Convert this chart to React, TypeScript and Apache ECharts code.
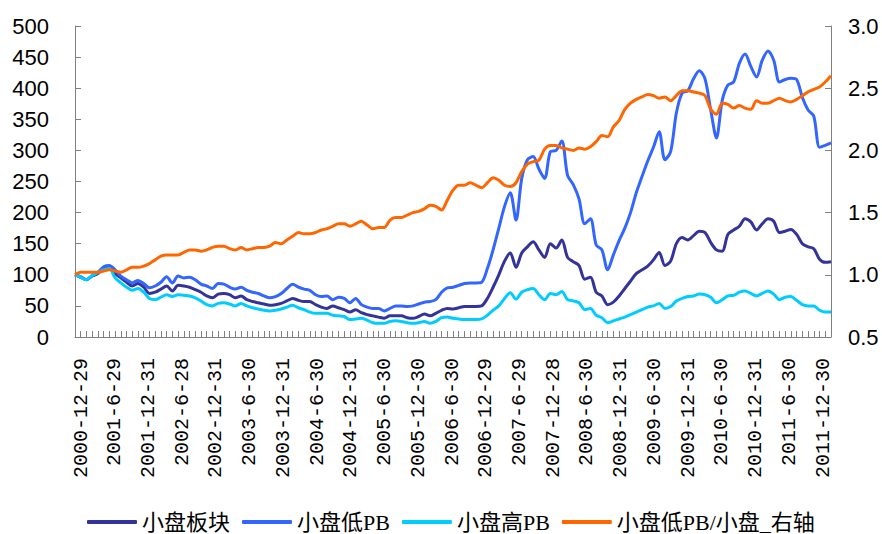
import React, { useEffect, useRef } from "react";
import * as echarts from "echarts";

// Half-year axis labels (last trading day of June / December)
const halfYearLabels = [
  "2000-12-29", "2001-6-29", "2001-12-31", "2002-6-28", "2002-12-31",
  "2003-6-30", "2003-12-31", "2004-6-30", "2004-12-31", "2005-6-30",
  "2005-12-30", "2006-6-30", "2006-12-29", "2007-6-29", "2007-12-28",
  "2008-6-30", "2008-12-31", "2009-6-30", "2009-12-31", "2010-6-30",
  "2010-12-31", "2011-6-30", "2011-12-30",
];

// Monthly index values, Dec 2000 = 100
const smallCap = [
  100, 96, 92, 98, 102, 110, 113, 102, 95, 88,
  82, 86, 80, 70, 72, 77, 82, 74, 83, 82,
  80, 76, 72, 66, 63, 69, 70, 68, 63, 66,
  60, 57, 55, 53, 51, 52, 54, 58, 62, 59,
  57, 57, 52, 48, 46, 50, 47, 44, 40, 44,
  39, 36, 34, 32, 30, 34, 34, 34, 31, 30,
  33, 37, 34, 38, 43, 46, 45, 47, 49, 49,
  49, 50, 62, 80, 100, 122, 135, 112, 135, 145,
  153, 140, 128, 150, 143, 156, 128, 121, 115, 93,
  96, 72, 66, 52, 56, 66, 78, 90, 102, 108,
  114, 124, 136, 115, 122, 150, 160, 156, 163, 170,
  168, 152, 140, 138, 165, 172, 178, 190, 185, 172,
  182, 190, 186, 168, 170, 173, 165, 150, 145, 142,
  125, 120, 121,
];

const smallCapLowPB = [
  100, 97, 92, 99, 104, 113, 115, 108, 98, 92,
  87, 91, 86, 79, 82, 88, 97, 87, 98, 95,
  96, 92, 85, 82, 78, 86, 85, 80, 77, 80,
  75, 72, 70, 66, 63, 65, 70, 78, 85, 80,
  77, 75, 68, 65, 66, 60, 64, 62, 55, 62,
  52, 48, 46, 46, 42, 46, 50, 50, 49, 50,
  53, 56, 57, 60, 72, 79, 80, 83, 86, 87,
  87, 88, 110, 140, 175, 210, 232, 188, 255, 285,
  290, 270, 255, 298, 300, 315, 260, 245, 222, 182,
  190, 148, 140, 108, 132, 155, 175, 200, 232, 258,
  283, 305, 330, 285, 298, 360, 392, 396, 415, 428,
  415, 365, 320, 380, 405, 410, 440, 455, 435, 418,
  445, 460, 445, 410, 414, 416, 414, 385, 365, 355,
  305, 308, 312,
];

const smallCapHighPB = [
  100, 96, 92, 99, 104, 108, 110, 95, 87, 80,
  75, 78, 72, 62, 60, 64, 68, 65, 68, 67,
  66, 63, 58, 52, 50, 54, 55, 53, 50, 54,
  50, 47, 45, 43, 42, 43, 45, 48, 51, 47,
  44, 40, 38, 38, 38, 35, 34, 33, 28, 29,
  30, 27, 23, 22, 22, 25, 26, 25, 23, 22,
  23, 25, 22, 25, 31, 32, 30, 29, 28, 28,
  28, 29, 35, 43, 50, 62, 71, 61, 72, 76,
  78, 68, 60, 70, 68, 73, 60, 58, 55, 44,
  46, 35, 31, 23, 26, 29, 32, 36, 40, 44,
  48, 50, 54, 46, 49, 58, 62, 65, 66, 69,
  68, 64, 55, 60, 66, 67, 72, 74, 70, 66,
  70, 74, 69, 60, 64, 65, 59, 52, 50, 50,
  43, 40, 40,
];

// Low-PB small caps relative to all small caps (right axis)
const lowPBRatio = [
  1.0, 1.02, 1.02, 1.02, 1.02, 1.03, 1.04, 1.03, 1.02, 1.04,
  1.06, 1.06, 1.07, 1.09, 1.12, 1.15, 1.16, 1.16, 1.16, 1.18,
  1.2, 1.2, 1.19, 1.2, 1.22, 1.23, 1.23, 1.21, 1.2, 1.22,
  1.2, 1.21, 1.22, 1.22, 1.23, 1.26, 1.25, 1.28, 1.31, 1.34,
  1.33, 1.33, 1.34, 1.36, 1.37, 1.39, 1.41, 1.41, 1.39, 1.41,
  1.43, 1.4, 1.37, 1.38, 1.38, 1.44, 1.46, 1.46, 1.48, 1.5,
  1.51, 1.53, 1.56, 1.55, 1.52, 1.6, 1.68, 1.72, 1.72, 1.74,
  1.72, 1.7, 1.74, 1.78, 1.76, 1.72, 1.71, 1.74, 1.83, 1.89,
  1.91, 1.92, 2.01, 2.04, 2.04, 2.02, 2.01, 2.0, 2.02, 2.01,
  2.03, 2.07, 2.12, 2.11, 2.19, 2.24, 2.33, 2.38, 2.41, 2.43,
  2.45, 2.44, 2.42, 2.43, 2.4, 2.44, 2.48, 2.48, 2.47, 2.46,
  2.44, 2.33, 2.29, 2.38, 2.37, 2.34, 2.36, 2.34, 2.33, 2.4,
  2.38, 2.38, 2.4, 2.42, 2.4, 2.39, 2.41, 2.44, 2.47, 2.49,
  2.51, 2.55, 2.6,
];

const seriesNames = ["小盘板块", "小盘低PB", "小盘高PB", "小盘低PB/小盘_右轴"];
const seriesColors = ["#333399", "#3366FF", "#00CCFF", "#FF6600"];

// One category per month from Dec 2000; half-year points carry the printed date
const categories: string[] = smallCap.map((_, i) => {
  if (i % 6 === 0) return halfYearLabels[i / 6];
  const m = 12 + i;
  const year = 2000 + Math.floor((m - 1) / 12);
  const month = ((m - 1) % 12) + 1;
  return `${year}-${month}`;
});

const axisGrey = "#808080";

export default function App() {
  const ref = useRef<HTMLDivElement>(null);

  useEffect(() => {
    if (!ref.current) return;
    const chart = echarts.init(ref.current, undefined, { renderer: "svg" });
    const dataSets = [smallCap, smallCapLowPB, smallCapHighPB, lowPBRatio];

    chart.setOption({
      animation: false,
      backgroundColor: "#ffffff",
      grid: [
        // plotting area
        { left: 75, right: 51, top: 26, bottom: 197, containLabel: false },
        // date label band: slightly narrower than the plot
        { left: 76, right: 64, top: 26, bottom: 197, containLabel: false },
      ],
      legend: {
        left: 82,
        top: 506,
        icon: "roundRect",
        itemWidth: 50,
        itemHeight: 4,
        itemGap: 12,
        textStyle: {
          fontSize: 22,
          color: "#000",
          fontFamily: "'Liberation Serif', 'Noto Sans CJK SC', serif",
        },
        data: seriesNames,
      },
      xAxis: [
        {
          type: "category",
          gridIndex: 0,
          boundaryGap: false,
          data: categories,
          axisLine: { lineStyle: { color: axisGrey, width: 1 } },
          axisTick: { inside: true, length: 6, interval: 0, lineStyle: { color: axisGrey } },
          axisLabel: { show: false },
          splitLine: { show: false },
        },
        {
          type: "category",
          gridIndex: 1,
          boundaryGap: false,
          data: categories,
          axisLine: { show: false },
          axisTick: { show: false },
          axisLabel: {
            interval: 5,
            rotate: 90,
            margin: 21,
            fontSize: 20,
            lineHeight: 10,
            verticalAlign: "top",
            color: "#000",
            fontFamily: "'Liberation Mono', monospace",
          },
          splitLine: { show: false },
        },
      ],
      yAxis: [
        {
          type: "value",
          gridIndex: 0,
          min: 0,
          max: 500,
          interval: 50,
          position: "left",
          axisLine: { show: true, lineStyle: { color: axisGrey, width: 1 } },
          axisTick: { show: true, inside: true, length: 6, lineStyle: { color: axisGrey } },
          axisLabel: {
            margin: 26,
            fontSize: 22,
            color: "#000",
            fontFamily: "'Liberation Sans', Arial, sans-serif",
          },
          splitLine: { show: false },
        },
        {
          type: "value",
          gridIndex: 0,
          min: 0.5,
          max: 3.0,
          interval: 0.5,
          position: "right",
          axisLine: { show: true, lineStyle: { color: axisGrey, width: 1 } },
          axisTick: { show: true, inside: true, length: 6, lineStyle: { color: axisGrey } },
          axisLabel: {
            margin: 17,
            fontSize: 22,
            color: "#000",
            fontFamily: "'Liberation Sans', Arial, sans-serif",
            formatter: (v: number) => v.toFixed(1),
          },
          splitLine: { show: false },
        },
        {
          type: "value",
          gridIndex: 1,
          show: false,
        },
      ],
      series: seriesNames.map((name, k) => ({
        name,
        type: "line",
        xAxisIndex: 0,
        yAxisIndex: k === 3 ? 1 : 0,
        data: dataSets[k],
        symbol: "none",
        smooth: 0.3,
        lineStyle: { color: seriesColors[k], width: 3 },
        itemStyle: { color: seriesColors[k] },
      })),
    });

    return () => chart.dispose();
  }, []);

  return (
    <div
      ref={ref}
      style={{ position: "absolute", left: 0, top: 0, width: 882, height: 534, background: "#fff" }}
    />
  );
}
